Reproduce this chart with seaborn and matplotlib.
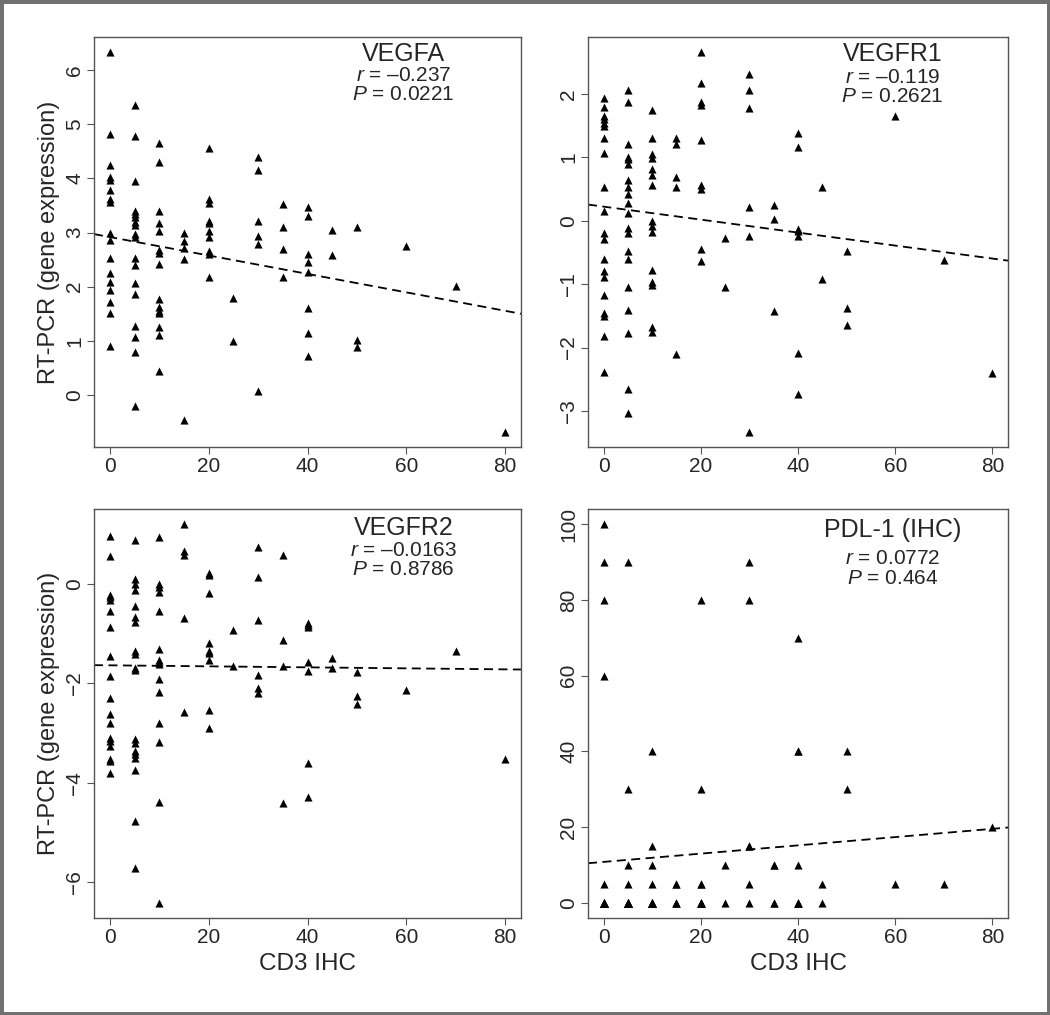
import pandas as pd
import matplotlib
matplotlib.use('Agg')
import matplotlib.pyplot as plt
import seaborn as sns
from matplotlib.patches import Rectangle

# Niveles de CD3 (IHC) en el eje x
cd3_niveles = [0, 5, 10, 15, 20, 25, 30, 35, 40, 45, 50, 60, 70, 80]

# Valores, agrupados por nivel de CD3
vegfa = [
    [6.33, 4.82, 4.24, 4.03, 3.97, 3.78, 3.62, 3.57, 2.99, 2.86, 2.53, 2.26, 2.09, 1.94, 1.71, 1.52, 0.91],
    [5.35, 4.79, 3.95, 3.39, 3.34, 3.29, 3.20, 3.14, 2.97, 2.91, 2.53, 2.40, 2.07, 1.87, 1.28, 1.08, 0.79, -0.21],
    [4.65, 4.31, 3.39, 3.18, 3.03, 2.67, 2.63, 2.42, 1.77, 1.63, 1.56, 1.51, 1.25, 1.10, 0.44],
    [2.99, 2.85, 2.72, 2.51, -0.46],
    [4.56, 3.61, 3.54, 3.22, 3.17, 3.03, 2.92, 2.65, 2.60, 2.17],
    [1.80, 1.00],
    [4.39, 4.16, 3.22, 2.94, 2.78, 0.07],
    [3.53, 3.10, 2.70, 2.17],
    [3.47, 3.31, 2.60, 2.46, 2.27, 1.61, 1.15, 0.72],
    [3.04, 2.58],
    [3.10, 1.01, 0.89],
    [2.75],
    [2.01],
    [-0.68],
]

vegfr1 = [
    [1.93, 1.80, 1.65, 1.60, 1.54, 1.49, 1.30, 1.07, 0.53, 0.15, -0.19, -0.29, -0.60, -0.79, -0.89, -1.17, -1.45, -1.50, -1.82, -2.38],
    [2.07, 1.87, 1.21, 1.01, 0.97, 0.90, 0.64, 0.53, 0.43, 0.28, 0.12, -0.11, -0.20, -0.48, -0.61, -1.05, -1.41, -1.77, -2.65, -3.03],
    [1.74, 1.31, 1.06, 0.99, 0.81, 0.73, 0.56, 0.00, -0.08, -0.18, -0.78, -0.97, -1.01, -1.67, -1.76],
    [1.31, 1.21, 0.69, 0.53, -2.10],
    [2.66, 2.17, 1.87, 1.82, 1.28, 0.56, 0.50, -0.45, -0.63],
    [-0.27, -1.05],
    [2.31, 2.06, 1.78, 0.21, -0.24, -3.33],
    [0.25, 0.03, -1.43],
    [1.38, 1.16, -0.13, -0.16, -0.24, -2.09, -2.74],
    [0.53, -0.92],
    [-0.47, -1.38, -1.65],
    [1.65],
    [-0.62],
    [-2.40],
]

vegfr2 = [
    [0.97, 0.55, -0.23, -0.27, -0.32, -0.55, -0.87, -1.45, -1.86, -2.30, -2.61, -2.79, -3.10, -3.16, -3.25, -3.52, -3.55, -3.81],
    [0.88, 0.10, 0.00, -0.13, -0.45, -0.67, -0.76, -1.34, -1.41, -1.69, -1.74, -3.12, -3.20, -3.35, -3.42, -3.49, -3.75, -4.76, -5.71],
    [0.95, 0.00, -0.07, -0.17, -0.55, -1.31, -1.53, -1.58, -1.62, -1.92, -2.18, -2.79, -3.18, -4.38, -6.41],
    [1.20, 0.67, 0.57, -0.69, -2.58],
    [0.22, 0.18, -0.18, -1.18, -1.34, -1.39, -1.53, -2.53, -2.90],
    [-0.92, -1.66],
    [0.75, 0.13, -0.73, -1.84, -2.10, -2.20],
    [0.58, -1.13, -1.66, -4.41],
    [-0.78, -0.82, -0.87, -1.58, -1.76, -3.59, -4.28],
    [-1.49, -1.69],
    [-1.78, -2.25, -2.41],
    [-2.14],
    [-1.35],
    [-3.52],
]

# PDL-1: muchos puntos se solapan en 0 y 5
pdl1 = [
    [100, 90, 80, 60, 5, 0, 0, 0, 0, 0, 0, 0, 0, 0, 0, 0, 0],
    [90, 30, 10, 5, 0, 0, 0, 0, 0, 0, 0, 0, 0, 0, 0, 0, 0, 0],
    [40, 15, 10, 5, 0, 0, 0, 0, 0, 0, 0, 0, 0, 0, 0],
    [5, 5, 0, 0, 0],
    [80, 30, 5, 5, 0, 0, 0, 0, 0, 0],
    [10, 0],
    [90, 80, 15, 15, 5, 0],
    [10, 10, 0, 0],
    [70, 40, 40, 10, 0, 0, 0, 0],
    [5, 0],
    [40, 30],
    [5],
    [5],
    [20],
]

titulos = ['VEGFA', 'VEGFR1', 'VEGFR2', 'PDL-1 (IHC)']
r_textos = ['\u20130.237', '\u20130.119', '\u20130.0163', '0.0772']
p_textos = ['0.0221', '0.2621', '0.8786', '0.464']
y_ticks = [range(0, 7), range(-3, 3), range(-6, 1, 2), range(0, 101, 20)]


def a_dataframe(grupos):
    filas = [(x, v) for x, vals in zip(cd3_niveles, grupos) for v in vals]
    return pd.DataFrame(filas, columns=['cd3', 'valor'])


sns.set_style('white')
plt.rcParams['font.family'] = ['Liberation Sans', 'DejaVu Sans']
plt.rcParams['mathtext.fontset'] = 'custom'
plt.rcParams['mathtext.it'] = 'Liberation Sans:italic'
plt.rcParams['mathtext.rm'] = 'Liberation Sans'

W, H = 1050, 1015
fig = plt.figure(figsize=(W / 100, H / 100), dpi=100)

# cajas de los ejes en pixeles (izq, arriba, der, abajo)
cajas = [(94, 37, 521, 447), (588, 37, 1008, 447),
         (94, 509, 521, 918), (588, 509, 1008, 918)]
# posicion vertical (fraccion de ejes) del titulo, r y P
pos_txt = [(0.958, 0.905, 0.859), (0.958, 0.902, 0.854),
           (0.954, 0.898, 0.851), (0.949, 0.878, 0.829)]

gris = '#555555'
for i, datos in enumerate([vegfa, vegfr1, vegfr2, pdl1]):
    l, t, r, b = cajas[i]
    ax = fig.add_axes([l / W, 1 - b / H, (r - l) / W, (b - t) / H])
    df = a_dataframe(datos)

    xlim = (-3.2, 83.2)
    rango = df['valor'].max() - df['valor'].min()
    ylim = (df['valor'].min() - 0.04 * rango, df['valor'].max() + 0.04 * rango)
    ax.set_xlim(xlim)
    ax.set_ylim(ylim)

    sns.scatterplot(data=df, x='cd3', y='valor', marker='^', s=34,
                    color='black', linewidth=0, ax=ax)
    sns.regplot(data=df, x='cd3', y='valor', scatter=False, ci=None,
                truncate=False, ax=ax,
                line_kws=dict(color='black', lw=1.3, ls=(0, (5, 3))))
    ax.set_xlim(xlim)
    ax.set_ylim(ylim)

    ax.set_xticks(range(0, 81, 20))
    ax.set_yticks(list(y_ticks[i]))
    ax.tick_params(bottom=True, left=True, direction='out', length=5,
                   width=0.8, color=gris, labelsize=15, pad=2)
    for lab in ax.get_yticklabels():
        lab.set_rotation(90)
        lab.set_va('center')
    for sp in ax.spines.values():
        sp.set_color(gris)
        sp.set_linewidth(1.0)

    ax.set_xlabel('CD3 IHC' if i >= 2 else '', fontsize=17.5)
    ax.set_ylabel('RT-PCR (gene expression)' if i % 2 == 0 else '', fontsize=17)
    ax.xaxis.set_label_coords(0.5, -0.086)
    ax.yaxis.set_label_coords(-0.080, 0.5)

    yt, yr, yp = pos_txt[i]
    ax.text(0.725, yt, titulos[i], transform=ax.transAxes, ha='center',
            va='center', fontsize=18)
    ax.text(0.725, yr, r'$\mathit{r}$ = ' + r_textos[i], transform=ax.transAxes,
            ha='center', va='center', fontsize=15)
    ax.text(0.725, yp, r'$\mathit{P}$ = ' + p_textos[i], transform=ax.transAxes,
            ha='center', va='center', fontsize=15)

# marco gris exterior
fig.add_artist(Rectangle((0, 0), 1, 1, transform=fig.transFigure,
                         fill=False, ec='#707070', lw=5))

fig.savefig('out.png', dpi=100)
